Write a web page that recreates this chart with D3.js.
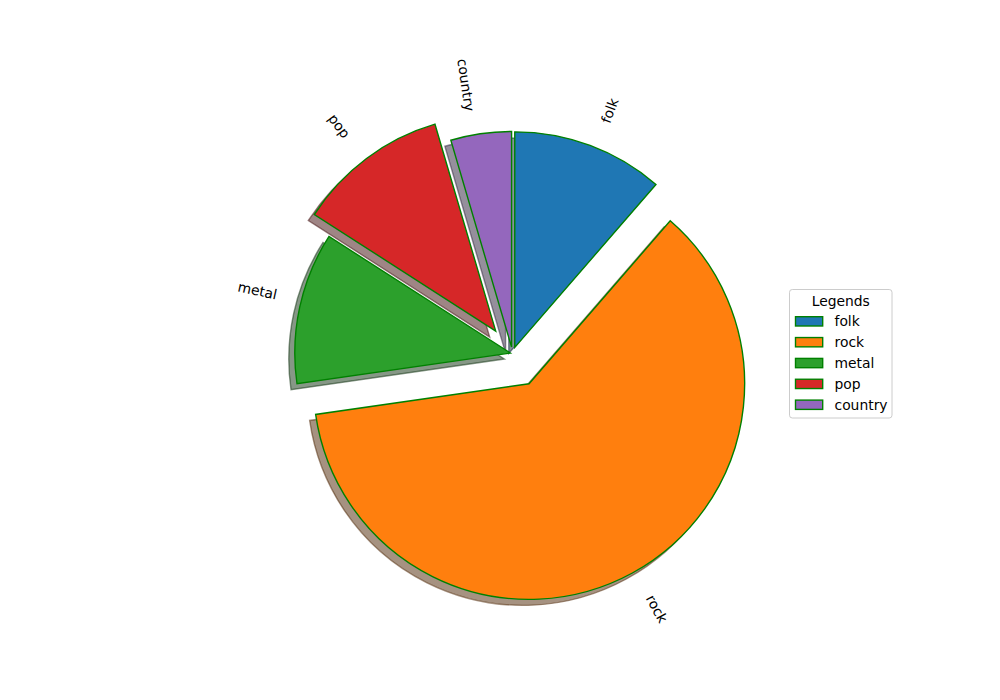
<!DOCTYPE html>
<html><head><meta charset="utf-8">
<script src="https://cdn.jsdelivr.net/npm/d3@7"></script>
<style>body{margin:0;background:#fff} svg{display:block;font-family:"DejaVu Sans",sans-serif}</style>
</head><body><svg id="c" width="1000" height="700"></svg>
<script>
const categories = ["folk", "rock", "metal", "pop", "country"];
const values = [25, 135, 25, 25, 10];
const explode = [0.03, 0.16, 0.01, 0.13, 0.03];
const colors = ["#1f77b4", "#ff7f0e", "#2ca02c", "#d62728", "#9467bd"];
const legendTitle = "Legends";

const svg = d3.select("#c");
const FS = 13.89;
const LW = 1.39;
const x = d3.scaleLinear().domain([-1.25, 1.25]).range([243, 782]);
const y = d3.scaleLinear().domain([-1.25, 1.25]).range([623, 84]);
const R = x(1) - x(0);
const arcs = d3.pie().sort(null).value(d => d)(values);
const arcGen = d3.arc().innerRadius(0).outerRadius(R);
const so = 0.02 * 100 / 72;

const wedges = arcs.map((a, i) => {
  const th = Math.PI / 2 - (a.startAngle + a.endAngle) / 2;
  const ex = explode[i] * Math.cos(th), ey = explode[i] * Math.sin(th);
  return {a, i, th, ex, ey};
});

// shadows
const gS = svg.append("g");
wedges.forEach(w => {
  const c = d3.rgb(colors[w.i]);
  const sc = d3.rgb(c.r * 0.3, c.g * 0.3, c.b * 0.3);
  gS.append("path")
    .attr("d", arcGen(w.a))
    .attr("transform", `translate(${x(w.ex - so)},${y(w.ey - so)})`)
    .attr("fill", sc).attr("fill-opacity", 0.5)
    .attr("stroke", sc).attr("stroke-opacity", 0.5).attr("stroke-width", LW)
    .attr("stroke-linejoin", "miter");
});
// wedges
const gW = svg.append("g");
wedges.forEach(w => {
  gW.append("path")
    .attr("d", arcGen(w.a))
    .attr("transform", `translate(${x(w.ex)},${y(w.ey)})`)
    .attr("fill", colors[w.i])
    .attr("stroke", "#008000").attr("stroke-width", LW)
    .attr("stroke-linejoin", "miter");
});
// labels
wedges.forEach(w => {
  const xt = w.ex + 1.1 * Math.cos(w.th), yt = w.ey + 1.1 * Math.sin(w.th);
  const rot = w.th * 180 / Math.PI + (xt > 0 ? 0 : 180);
  const g = svg.append("g");
  const t = g.append("text").text(categories[w.i])
    .attr("font-size", FS).attr("fill", "#000")
    .attr("text-anchor", "middle").attr("dominant-baseline", "central");
  const bb = t.node().getBBox();
  const tw = bb.width, tht = FS * 1.164;
  const rr = rot * Math.PI / 180;
  const W = Math.abs(tw * Math.cos(rr)) + Math.abs(tht * Math.sin(rr));
  const H = Math.abs(tw * Math.sin(rr)) + Math.abs(tht * Math.cos(rr));
  const px = x(xt), py = y(yt);
  const cx = xt > 0 ? px + W / 2 : px - W / 2;
  const cy = yt > 0 ? py - H / 2 : py + H / 2;
  g.attr("transform", `translate(${cx},${cy}) rotate(${-rot})`);
});

// legend
const lg = svg.append("g");
const lx = 789.5, ly = 289.5, lw = 102.5, lh = 128.5;
lg.append("rect").attr("x", lx).attr("y", ly).attr("width", lw).attr("height", lh)
  .attr("rx", 2.8).attr("fill", "#fff").attr("fill-opacity", 0.8)
  .attr("stroke", "#cccccc").attr("stroke-width", 1);
lg.append("text").text(legendTitle).attr("x", lx + lw / 2).attr("y", 300.5)
  .attr("font-size", FS).attr("text-anchor", "middle").attr("dominant-baseline", "central");
categories.forEach((c, i) => {
  const cy = 321.3 + i * 20.85;
  lg.append("rect").attr("x", 795.5).attr("y", cy - 4.6).attr("width", 27.2).attr("height", 9.3)
    .attr("fill", colors[i]).attr("stroke", "#008000").attr("stroke-width", LW);
  lg.append("text").text(c).attr("x", 834.5).attr("y", cy)
    .attr("font-size", FS).attr("dominant-baseline", "central");
});
</script></body></html>
